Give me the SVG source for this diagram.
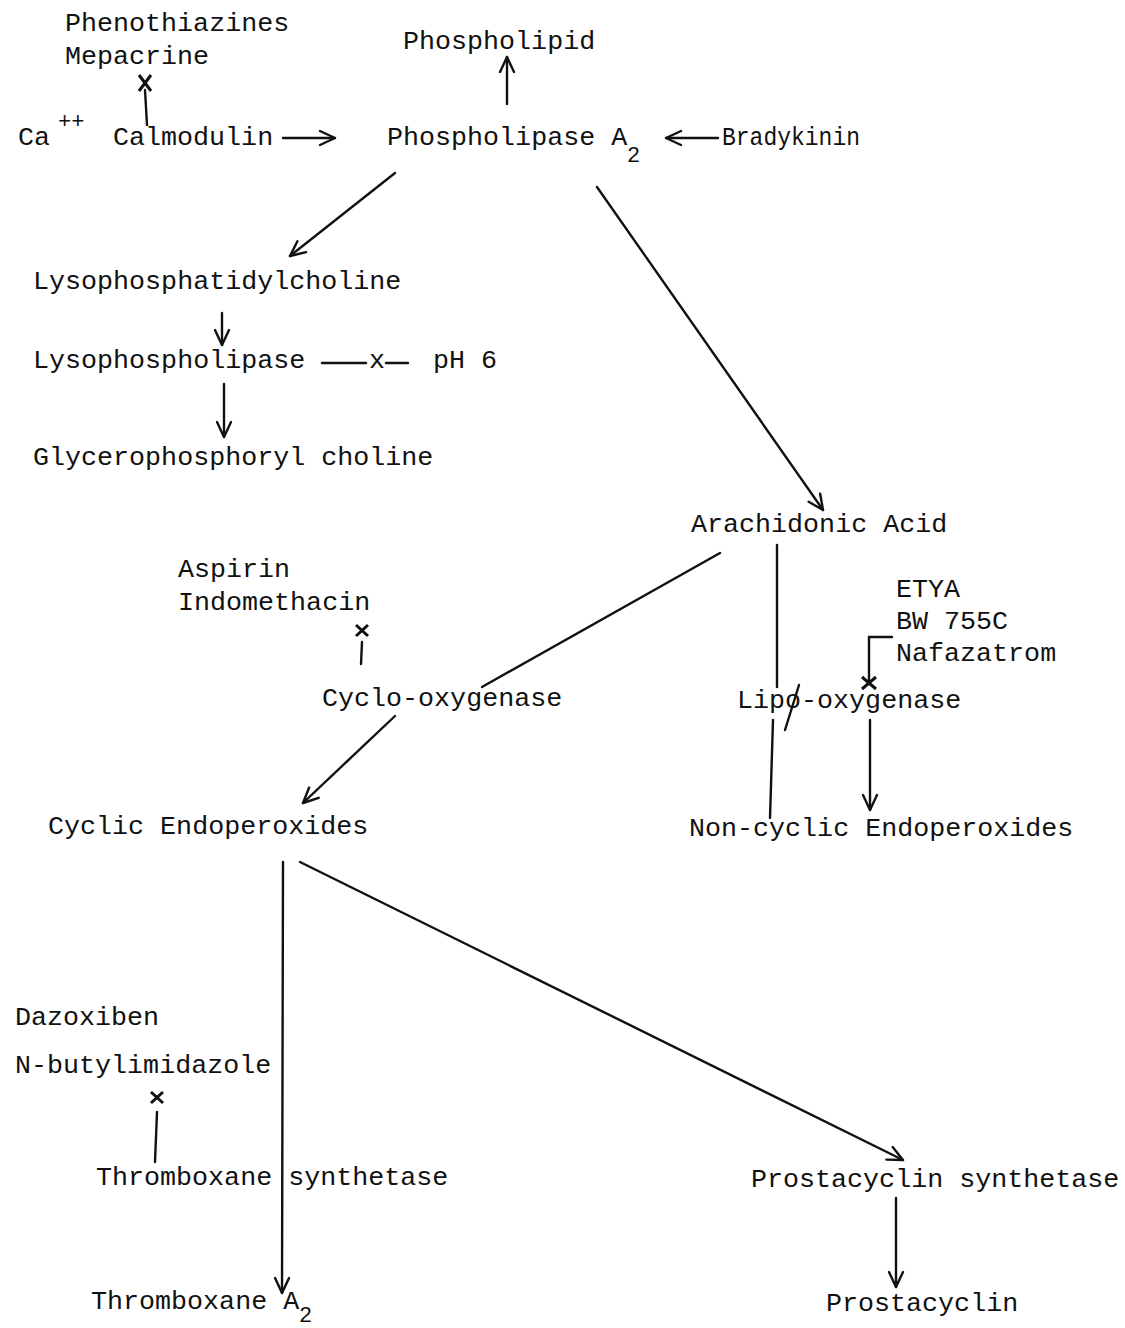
<svg xmlns="http://www.w3.org/2000/svg" width="1125" height="1328" viewBox="0 0 1125 1328">
<style>
text{font-family:"Liberation Mono","Courier New",monospace;font-size:26.7px;fill:#111;}
.sub{font-size:22px;}
.ln{stroke:#111;stroke-width:2.4;fill:none;stroke-linecap:round;}
.arr{marker-end:url(#ah);}
.xm{stroke:#111;stroke-width:3;stroke-linecap:butt;fill:none;}
</style>
<defs>
<marker id="ah" markerUnits="userSpaceOnUse" markerWidth="22" markerHeight="22" viewBox="0 0 22 22" refX="19" refY="11" orient="auto">
<path d="M4,4 L19,11 L4,18" fill="none" stroke="#111" stroke-width="2.4" stroke-linecap="round" stroke-linejoin="round"/>
</marker>
</defs>
<rect width="1125" height="1328" fill="#fff"/>

<g id="connectors">
<line class="ln" x1="145" y1="90" x2="147" y2="125"/>
<path class="xm" d="M139,75 L151,91 M151,75 L139,91"/>
<line class="ln arr" x1="283" y1="138" x2="335" y2="138"/>
<line class="ln arr" x1="507" y1="104" x2="507" y2="57"/>
<line class="ln arr" x1="718" y1="138" x2="666" y2="138"/>
<line class="ln arr" x1="395" y1="173" x2="290" y2="256"/>
<line class="ln arr" x1="597" y1="187" x2="823" y2="510"/>
<line class="ln arr" x1="222" y1="313" x2="222" y2="345"/>
<line class="ln" x1="322" y1="363" x2="366" y2="363"/>
<line class="ln" x1="386" y1="363" x2="408" y2="363"/>
<line class="ln arr" x1="224" y1="384" x2="224" y2="437"/>
<line class="ln" x1="720" y1="553" x2="482" y2="687"/>
<line class="ln arr" x1="395" y1="716" x2="303" y2="803"/>
<path class="xm" d="M356,625 L368,636 M368,625 L356,636"/>
<line class="ln" x1="362" y1="642" x2="361" y2="664"/>
<line class="ln" x1="777" y1="545" x2="777" y2="687"/>
<line class="ln" x1="773" y1="720" x2="770" y2="818"/>
<line class="ln" x1="785" y1="730" x2="799" y2="685"/>
<path class="ln" d="M892,637 L869,637 L869,684"/>
<path class="xm" d="M862,677 L876,689 M876,677 L862,689"/>
<line class="ln arr" x1="870" y1="720" x2="870" y2="810"/>
<line class="ln arr" x1="283" y1="862" x2="282" y2="1293"/>
<line class="ln arr" x1="300" y1="862" x2="903" y2="1160"/>
<path class="xm" d="M151,1092 L163,1103 M163,1092 L151,1103"/>
<line class="ln" x1="157" y1="1112" x2="155" y2="1162"/>
<line class="ln arr" x1="896" y1="1198" x2="896" y2="1287"/>
</g>

<g id="n-inhib1"><text x="65" y="31">Phenothiazines</text><text x="65" y="64">Mepacrine</text></g>
<g id="n-ca"><text x="18" y="145">Ca</text><text x="58" y="128" class="sub">++</text></g>
<g id="n-calmodulin"><text x="113" y="145">Calmodulin</text></g>
<g id="n-phospholipid"><text x="403" y="49">Phospholipid</text></g>
<g id="n-pla2"><text x="387" y="145">Phospholipase A</text><text x="627" y="162" class="sub">2</text></g>
<g id="n-bradykinin"><text x="722" y="145" textLength="138" lengthAdjust="spacingAndGlyphs">Bradykinin</text></g>
<g id="n-lpc"><text x="33" y="289">Lysophosphatidylcholine</text></g>
<g id="n-lpl"><text x="33" y="368">Lysophospholipase</text></g>
<g id="n-x1"><text x="369" y="368">x</text></g>
<g id="n-ph"><text x="433" y="368">pH 6</text></g>
<g id="n-gpc"><text x="33" y="465">Glycerophosphoryl choline</text></g>
<g id="n-aa"><text x="691" y="532">Arachidonic Acid</text></g>
<g id="n-inhib2"><text x="178" y="577">Aspirin</text><text x="178" y="610">Indomethacin</text></g>
<g id="n-cox"><text x="322" y="706">Cyclo-oxygenase</text></g>
<g id="n-inhib3"><text x="896" y="597">ETYA</text><text x="896" y="629">BW 755C</text><text x="896" y="661">Nafazatrom</text></g>
<g id="n-lox"><text x="737" y="708">Lipo-oxygenase</text></g>
<g id="n-cyclic"><text x="48" y="834">Cyclic Endoperoxides</text></g>
<g id="n-noncyclic"><text x="689" y="836">Non-cyclic Endoperoxides</text></g>
<g id="n-inhib4"><text x="15" y="1025">Dazoxiben</text><text x="15" y="1073">N-butylimidazole</text></g>
<g id="n-txs"><text x="96" y="1185">Thromboxane synthetase</text></g>
<g id="n-txa2"><text x="91" y="1309">Thromboxane A</text><text x="299" y="1322" class="sub">2</text></g>
<g id="n-pgis"><text x="751" y="1187">Prostacyclin synthetase</text></g>
<g id="n-pgi2"><text x="826" y="1311">Prostacyclin</text></g>
</svg>
